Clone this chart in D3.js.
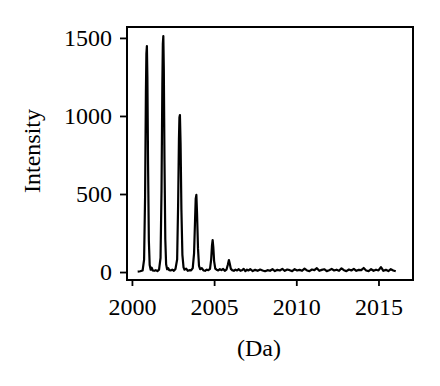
<!DOCTYPE html>
<html><head><meta charset="utf-8">
<script src="https://cdn.jsdelivr.net/npm/d3@7"></script>
<style>body{margin:0;background:#fff}text{font-family:"Liberation Serif","DejaVu Serif",serif}</style>
</head><body><svg id="c" width="440" height="386"></svg>
<script>
const massDa = [2000.35,2000.5,2000.65,2000.74,2000.8,2000.85,2000.88,2000.91,2000.94,2000.98,2001.03,2001.08,2001.14,2001.2,2001.27,2001.35,2001.45,2001.55,2001.65,2001.74,2001.8,2001.85,2001.88,2001.91,2001.94,2001.98,2002.03,2002.08,2002.14,2002.2,2002.27,2002.35,2002.45,2002.55,2002.65,2002.75,2002.81,2002.86,2002.89,2002.92,2002.96,2003.01,2003.07,2003.14,2003.2,2003.3,2003.4,2003.5,2003.6,2003.7,2003.78,2003.84,2003.88,2003.92,2003.96,2004.02,2004.08,2004.15,2004.25,2004.35,2004.45,2004.55,2004.65,2004.75,2004.82,2004.87,2004.91,2004.95,2005.0,2005.07,2005.15,2005.25,2005.35,2005.45,2005.55,2005.65,2005.75,2005.83,2005.9,2005.95,2006.02,2006.1,2006.2,2006.3,2006.4,2006.5,2006.6,2006.7,2006.8,2006.9,2007.0,2007.1,2007.2,2007.35,2007.5,2007.65,2007.8,2007.95,2008.1,2008.25,2008.4,2008.55,2008.7,2008.85,2009.0,2009.15,2009.3,2009.45,2009.6,2009.75,2009.9,2010.05,2010.2,2010.35,2010.5,2010.65,2010.8,2010.95,2011.1,2011.25,2011.4,2011.55,2011.7,2011.85,2012.0,2012.15,2012.3,2012.45,2012.6,2012.75,2012.9,2013.05,2013.2,2013.35,2013.5,2013.65,2013.8,2013.95,2014.1,2014.25,2014.4,2014.55,2014.7,2014.85,2015.0,2015.15,2015.3,2015.45,2015.6,2015.75,2015.9,2016.05,2016.2,2016.4];
const intensity = [3,5,10,80,480,1150,1400,1448,1250,700,200,45,15,28,10,8,12,6,15,90,520,1200,1460,1512,1300,720,210,50,18,25,12,10,15,8,20,80,430,850,990,1006,820,400,110,30,15,22,8,12,10,25,120,330,470,494,380,150,40,18,25,10,8,15,12,20,80,170,205,160,70,22,15,10,18,12,20,8,15,45,77,55,20,12,8,15,10,18,8,12,20,6,15,10,18,6,14,8,16,10,5,12,8,18,6,14,10,20,8,16,12,6,18,10,14,8,22,10,6,16,12,25,8,14,18,6,12,20,10,15,8,24,12,6,16,10,20,8,14,12,26,10,6,18,8,15,10,32,8,14,6,18,10,5];
const xTicks = [2000,2005,2010,2015];
const yTicks = [0,500,1000,1500];

const svg = d3.select("#c");
const L=127,R=413,T=27,B=280;
const x = d3.scaleLinear().domain([1999.7,2017.1]).range([L,R]);
const y = d3.scaleLinear().domain([-51,1570]).range([B,T]);

const pts = massDa.map((m,i)=>[m,intensity[i]]);
svg.append("path").datum(pts)
  .attr("d", d3.line().x(d=>x(d[0])).y(d=>y(d[1])))
  .attr("fill","none").attr("stroke","#000").attr("stroke-width",2.2).attr("stroke-linejoin","round");

svg.append("rect").attr("x",L).attr("y",T).attr("width",R-L).attr("height",B-T)
  .attr("fill","none").attr("stroke","#000").attr("stroke-width",2);

const gx = svg.append("g").attr("transform",`translate(0,${B})`)
  .call(d3.axisBottom(x).tickValues(xTicks).tickFormat(d3.format("d")).tickSize(6).tickPadding(12));
const gy = svg.append("g").attr("transform",`translate(${L},0)`)
  .call(d3.axisLeft(y).tickValues(yTicks).tickFormat(d3.format("d")).tickSize(7).tickPadding(8));
[gx,gy].forEach(g=>{
  g.select(".domain").remove();
  g.selectAll("line").attr("stroke","#000").attr("stroke-width",1.8);
  g.selectAll("text").attr("font-size",24).attr("fill","#000").attr("font-family","Liberation Serif, serif");
});

svg.append("text").attr("transform","translate(40,151) rotate(-90)").attr("text-anchor","middle")
  .attr("font-size",24).text("Intensity");
svg.append("text").attr("x",259).attr("y",356).attr("text-anchor","middle")
  .attr("font-size",24).text("(Da)");
</script></body></html>
